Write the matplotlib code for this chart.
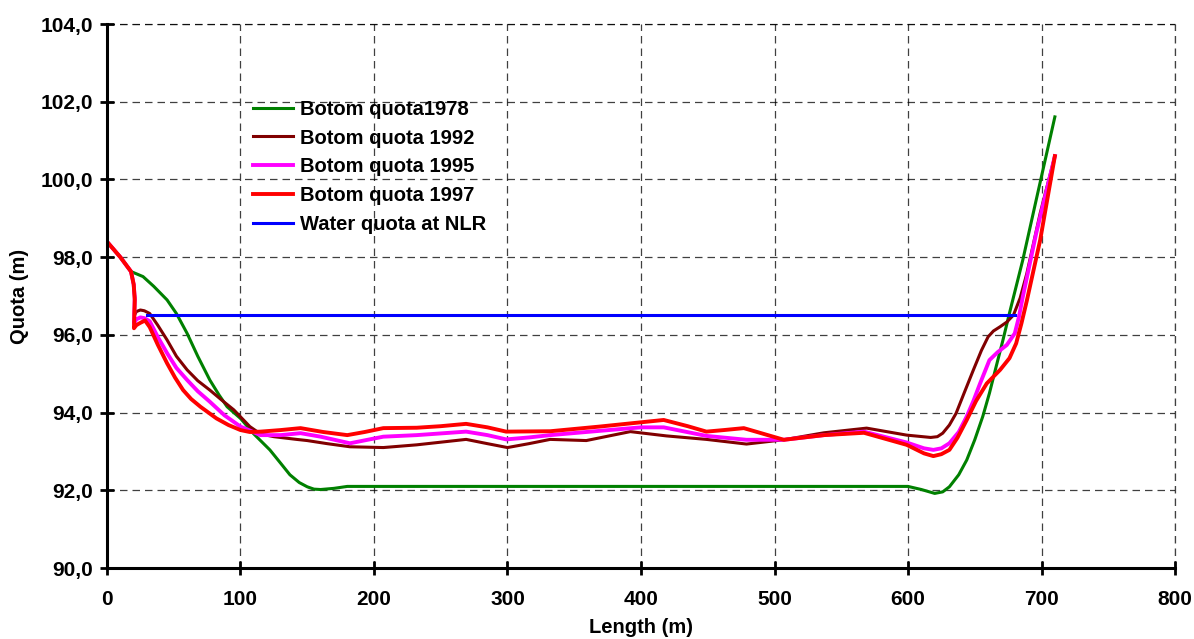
import matplotlib
matplotlib.use("Agg")
import matplotlib.pyplot as plt

plt.rcParams['font.family'] = ['Liberation Sans', 'DejaVu Sans']
plt.rcParams['font.weight'] = 'bold'

# bottom profile 1978
x_1978 = [0, 10, 18, 27, 35, 45, 52, 60, 68, 77, 84, 90, 100, 110, 122, 130, 137, 144, 150,
          155, 160, 170, 180, 300, 400, 500, 600, 610, 620, 626, 631, 638, 644, 650, 656,
          661, 666, 671, 676, 686, 696, 710]
y_1978 = [98.4, 98.0, 97.63, 97.5, 97.25, 96.9, 96.55, 96.04, 95.45, 94.84, 94.45, 94.15,
          93.85, 93.45, 93.04, 92.7, 92.4, 92.2, 92.09, 92.03, 92.02, 92.05, 92.1, 92.1,
          92.1, 92.1, 92.1, 92.02, 91.92, 91.96, 92.09, 92.4, 92.78, 93.3, 93.9, 94.5,
          95.18, 95.85, 96.56, 97.93, 99.47, 101.61]

# bottom profile 1992
x_1992 = [0, 10, 18, 20, 20.8, 20.5, 22, 25, 28, 32, 38, 45, 52, 60, 68, 77, 86, 95, 107,
          115, 125, 142, 150, 165, 182, 207, 232, 269, 285, 300, 316, 332, 359, 392, 419,
          449, 479, 507, 537, 569, 599, 617, 622, 626, 631, 636, 642, 649, 655, 660, 664,
          669, 674, 679, 684, 689, 699, 710]
y_1992 = [98.4, 98.0, 97.63, 97.3, 96.95, 96.5, 96.6, 96.64, 96.62, 96.55, 96.25, 95.87,
          95.45, 95.1, 94.82, 94.58, 94.32, 94.07, 93.64, 93.45, 93.38, 93.31, 93.28, 93.2,
          93.12, 93.1, 93.17, 93.31, 93.2, 93.1, 93.2, 93.31, 93.28, 93.51, 93.4, 93.31,
          93.19, 93.3, 93.48, 93.6, 93.42, 93.36, 93.38, 93.47, 93.68, 93.98, 94.5, 95.1,
          95.6, 95.95, 96.1, 96.21, 96.33, 96.51, 96.95, 97.58, 99.13, 100.6]

# bottom profile 1995
x_1995 = [0, 10, 18, 20, 20.8, 20.3, 22, 25, 28, 32, 38, 45, 52, 60, 68, 77, 88, 100, 115,
          130, 145, 160, 182, 207, 232, 269, 285, 299, 316, 332, 369, 400, 417, 449, 479,
          507, 537, 567, 599, 612, 619, 625, 631, 638, 644, 649, 654, 661, 667, 674, 680,
          683, 686, 696, 710]
y_1995 = [98.4, 98.0, 97.63, 97.3, 96.95, 96.3, 96.4, 96.45, 96.43, 96.35, 95.95, 95.53,
          95.15, 94.84, 94.55, 94.28, 93.93, 93.64, 93.42, 93.42, 93.47, 93.38, 93.21,
          93.38, 93.42, 93.51, 93.42, 93.31, 93.36, 93.42, 93.53, 93.62, 93.62, 93.4, 93.3,
          93.3, 93.42, 93.51, 93.23, 93.08, 93.04, 93.08, 93.21, 93.5, 93.9, 94.3, 94.75,
          95.35, 95.55, 95.74, 96.04, 96.45, 96.98, 98.61, 100.6]

# bottom profile 1997
x_1997 = [0, 10, 18, 20, 20.8, 20.2, 22, 25, 28.5, 32, 38, 45, 51, 57, 63, 70, 82, 91, 100,
          107, 115, 130, 145, 162, 180, 193, 207, 232, 250, 269, 285, 299, 332, 369, 400,
          417, 435, 449, 462, 477, 492, 507, 537, 567, 599, 612, 619, 625, 631, 637, 644,
          651, 659, 669, 676, 681, 685, 689, 699, 710]
y_1997 = [98.4, 98.0, 97.63, 97.3, 96.9, 96.17, 96.25, 96.31, 96.37, 96.2, 95.75, 95.27,
          94.9, 94.58, 94.35, 94.15, 93.85, 93.68, 93.55, 93.5, 93.51, 93.55, 93.6, 93.5,
          93.42, 93.5, 93.6, 93.61, 93.65, 93.71, 93.62, 93.51, 93.52, 93.64, 93.75, 93.81,
          93.65, 93.51, 93.55, 93.6, 93.45, 93.3, 93.42, 93.48, 93.17, 92.95, 92.88, 92.93,
          93.04, 93.35, 93.81, 94.3, 94.75, 95.1, 95.4, 95.78, 96.3, 96.88, 98.44, 100.6]

# water level at NLR
x_water = [30, 680]
y_water = [96.5, 96.5]

x_ticks = [0, 100, 200, 300, 400, 500, 600, 700, 800]
y_ticks = [90, 92, 94, 96, 98, 100, 102, 104]

fig = plt.figure(figsize=(11.94, 6.39), dpi=100)
ax = fig.add_axes([0.0896, 0.1111, 0.8945, 0.8513])

ax.plot(x_1978, y_1978, color='#008000', lw=2.2, label='Botom quota1978')
ax.plot(x_1992, y_1992, color='#800000', lw=2.2, label='Botom quota 1992')
ax.plot(x_1995, y_1995, color='#FF00FF', lw=2.8, label='Botom quota 1995')
ax.plot(x_1997, y_1997, color='#FF0000', lw=2.8, label='Botom quota 1997')
ax.plot(x_water, y_water, color='#0000FF', lw=2.2, label='Water quota at NLR')

ax.set_xlim(0, 800)
ax.set_ylim(90, 104)
ax.set_xticks(x_ticks)
ax.set_yticks(y_ticks)
ax.set_yticklabels([f'{v:.1f}'.replace('.', ',') for v in y_ticks])
ax.tick_params(axis='both', direction='inout', length=10, width=2, labelsize=15)
ax.tick_params(axis='y', pad=5)
ax.tick_params(axis='x', pad=11)

# no frame on top/right, dashed grid everywhere incl. edges
for s in ['top', 'right']:
    ax.spines[s].set_visible(False)
for s in ['left', 'bottom']:
    ax.spines[s].set_linewidth(2.2)
ax.grid(True, color='black', lw=0.9, linestyle=(0, (6, 4)), alpha=0.75)
ax.set_axisbelow(True)
ax.axhline(104, color='black', lw=0.9, linestyle=(0, (6, 4)), alpha=0.75, zorder=0, clip_on=False)
ax.axvline(800, color='black', lw=0.9, linestyle=(0, (6, 4)), alpha=0.75, zorder=0, clip_on=False)

ax.set_xlabel('Length (m)', fontsize=14.5, fontweight='bold', labelpad=6)
ax.set_ylabel('Quota (m)', fontsize=14.5, fontweight='bold', labelpad=8)

ax.legend(loc='upper left', bbox_to_anchor=(0.137, 0.861), frameon=False, fontsize=14.5,
          handlelength=1.95, handletextpad=0.35, labelspacing=0.49, borderpad=0,
          borderaxespad=0)

fig.savefig('out.png', dpi=100)
